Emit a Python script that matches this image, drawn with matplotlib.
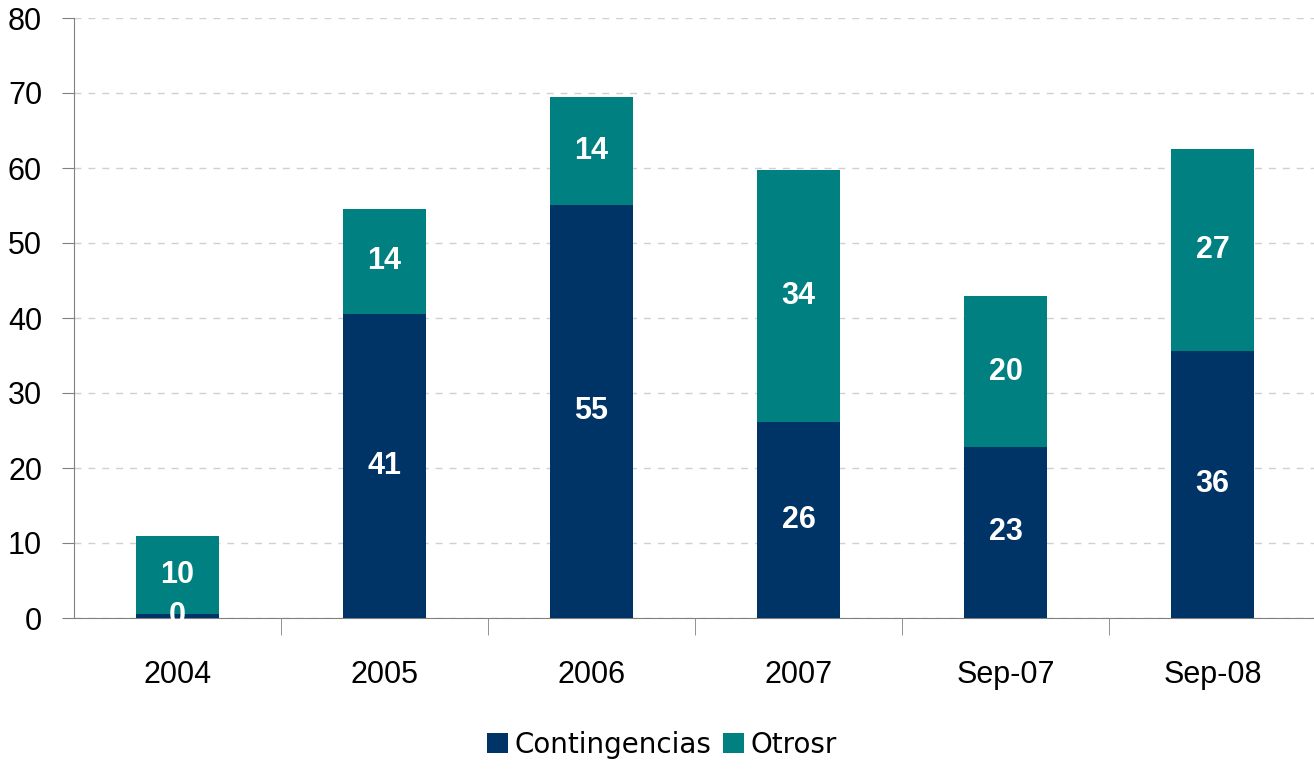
import matplotlib.pyplot as plt
import numpy as np

categories = ['2004', '2005', '2006', '2007', 'Sep-07', 'Sep-08']
contingencias = [0.5, 40.6, 55.1, 26.1, 22.8, 35.6]
otros = [10.4, 14.0, 14.4, 33.6, 20.1, 26.9]

navy = '#003366'
teal = '#008080'

fig = plt.figure(figsize=(13.14, 7.71), dpi=100)
ax = fig.add_axes([74 / 1314, 1 - 618 / 771, 1242 / 1314, 600 / 771])

x = np.arange(len(categories))
w = 0.405
b1 = ax.bar(x, contingencias, w, color=navy, label='Contingencias', zorder=3)
b2 = ax.bar(x, otros, w, bottom=contingencias, color=teal, label='Otrosr', zorder=3)

# white bold numbers in the middle of each segment
lab = dict(color='white', fontsize=22, fontweight='bold', family='Liberation Sans')
ax.bar_label(b1, fmt='%.0f', label_type='center', **lab)
ax.bar_label(b2, fmt='%.0f', label_type='center', **lab)

ax.set_xlim(-0.5, len(categories) - 0.5)
ax.set_ylim(0, 80)
ax.set_yticks(range(0, 81, 10))
ax.yaxis.grid(True, linestyle=(0, (5, 5)), color='#d0d0d0', linewidth=1, zorder=0)

ax.set_xticks(x)
ax.set_xticklabels(categories)
ax.set_xticks(np.arange(0.5, len(categories) - 0.5), minor=True)
ax.tick_params(axis='x', which='major', length=0, pad=30)
ax.tick_params(axis='x', which='minor', length=12, direction='out', color='#808080')
ax.tick_params(axis='y', length=9, direction='out', color='#808080', pad=14)
for t in ax.get_xticklabels() + ax.get_yticklabels():
    t.set_family('Liberation Sans')
    t.set_fontsize(22)

for s in ['top', 'right']:
    ax.spines[s].set_visible(False)
for s in ['left', 'bottom']:
    ax.spines[s].set_color('#808080')

fig.legend(handles=[b1, b2], loc='center', bbox_to_anchor=(662 / 1314, 1 - 745 / 771),
           ncol=2, frameon=False, fontsize=20, handlelength=0.75, handleheight=0.75,
           handletextpad=0.25, columnspacing=0.4)

fig.savefig('out.png', dpi=100)
